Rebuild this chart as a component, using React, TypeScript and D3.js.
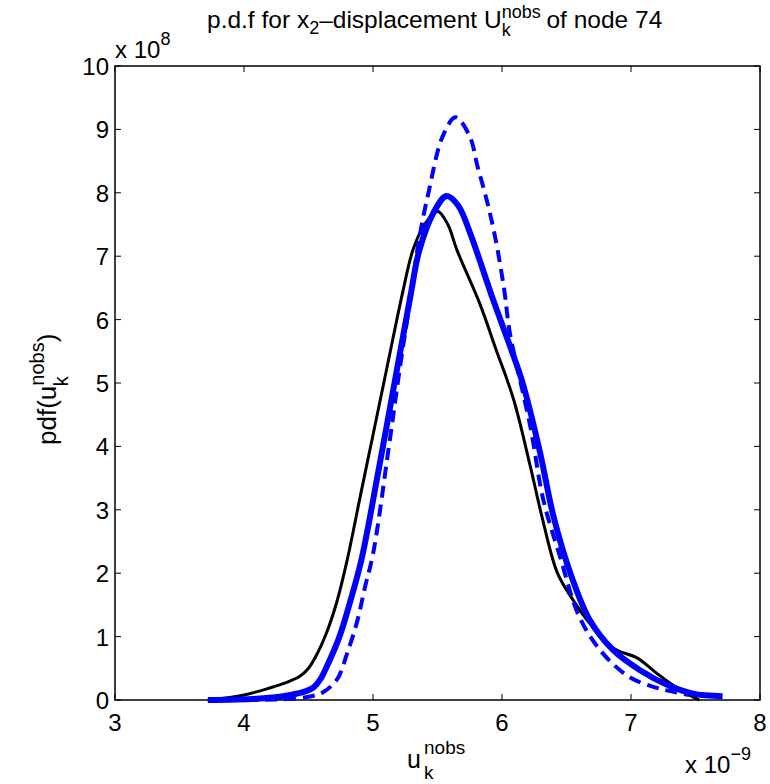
import React from 'react';
import * as d3 from 'd3';

// data in units of 1e-9 (x) and 1e8 (y)
const blackX = [3.72, 4.0, 4.2, 4.32, 4.43, 4.5, 4.57, 4.64, 4.72, 4.8, 4.9, 5.0, 5.11, 5.23, 5.31, 5.4, 5.5, 5.58, 5.65, 5.83, 5.95, 6.09, 6.22, 6.31, 6.43, 6.55, 6.68, 6.86, 7.05, 7.2, 7.38, 7.53];
const blackY = [0.0, 0.08, 0.19, 0.27, 0.37, 0.5, 0.74, 1.06, 1.55, 2.21, 3.2, 4.18, 5.26, 6.43, 7.1, 7.5, 7.71, 7.5, 7.1, 6.24, 5.55, 4.74, 3.68, 2.89, 2.0, 1.58, 1.21, 0.82, 0.66, 0.42, 0.16, 0.0];

const thickX = [3.72, 4.1, 4.36, 4.48, 4.54, 4.59, 4.64, 4.74, 4.82, 4.91, 5.05, 5.19, 5.29, 5.36, 5.47, 5.57, 5.66, 5.75, 5.93, 6.05, 6.16, 6.29, 6.4, 6.53, 6.68, 6.86, 7.07, 7.28, 7.48, 7.71];
const thickY = [0.0, 0.02, 0.08, 0.14, 0.2, 0.32, 0.52, 1.0, 1.53, 2.21, 3.7, 5.26, 6.37, 7.1, 7.69, 7.95, 7.8, 7.38, 6.32, 5.65, 5.0, 3.95, 2.89, 2.0, 1.26, 0.79, 0.47, 0.24, 0.1, 0.06];

const dashX = [3.72, 4.3, 4.5, 4.61, 4.72, 4.8, 4.88, 4.94, 5.0, 5.12, 5.21, 5.28, 5.36, 5.43, 5.54, 5.64, 5.75, 5.81, 5.88, 5.95, 6.02, 6.06, 6.22, 6.32, 6.45, 6.6, 6.78, 6.99, 7.2, 7.33, 7.45];
const dashY = [0.0, 0.01, 0.05, 0.12, 0.32, 0.74, 1.26, 1.8, 2.3, 3.95, 5.26, 6.2, 7.3, 8.0, 8.89, 9.19, 8.89, 8.42, 7.9, 7.27, 6.43, 5.8, 4.31, 3.16, 2.26, 1.31, 0.74, 0.36, 0.19, 0.13, 0.08];

const xTicks = [3, 4, 5, 6, 7, 8];
const yTicks = [0, 1, 2, 3, 4, 5, 6, 7, 8, 9, 10];

const left = 115, right = 760, top = 66, bottom = 700;

const App = () => {
  const x = d3.scaleLinear().domain([3, 8]).range([left, right]);
  const y = d3.scaleLinear().domain([0, 10]).range([bottom, top]);
  const line = d3.line<[number, number]>()
    .x(d => x(d[0]))
    .y(d => Math.min(bottom, y(d[1])))
    .curve(d3.curveCatmullRom.alpha(0.5));
  const zip = (xs: number[], ys: number[]) => xs.map((v, i) => [v, ys[i]] as [number, number]);
  const font = '"Liberation Sans", Arial, sans-serif';

  return (
    <svg width={770} height={784} style={{ position: 'absolute', left: 0, top: 0, fontFamily: font }}>
      <rect width={770} height={784} fill="#fff" />
      <rect x={left} y={top} width={right - left} height={bottom - top} fill="#fff" stroke="#000" strokeWidth={1.5} />
      {xTicks.map(t => (
        <g key={'x' + t}>
          <line x1={x(t)} x2={x(t)} y1={bottom} y2={bottom - 6} stroke="#000" />
          <line x1={x(t)} x2={x(t)} y1={top} y2={top + 6} stroke="#000" />
          <text x={x(t)} y={bottom + 31} fontSize={24} textAnchor="middle">{t}</text>
        </g>
      ))}
      {yTicks.map(t => (
        <g key={'y' + t}>
          <line x1={left} x2={left + 6} y1={y(t)} y2={y(t)} stroke="#000" />
          <line x1={right} x2={right - 6} y1={y(t)} y2={y(t)} stroke="#000" />
          <text x={left - 6} y={y(t) + 9} fontSize={24} textAnchor="end">{t}</text>
        </g>
      ))}
      <path d={line(zip(blackX, blackY)) || ''} fill="none" stroke="#000" strokeWidth={3} />
      <path d={line(zip(dashX, dashY)) || ''} fill="none" stroke="#0000ff" strokeWidth={4} strokeDasharray="12,7" />
      <path d={line(zip(thickX, thickY)) || ''} fill="none" stroke="#0000ff" strokeWidth={6} />

      <text x={115} y={58} fontSize={24}>x 10<tspan fontSize={18} dy={-13}>8</tspan></text>
      <text x={685} y={773} fontSize={24}>x 10<tspan fontSize={18} dy={-13}>−9</tspan></text>

      <text x={207} y={28} fontSize={24.5}>
        p.d.f for x<tspan fontSize={18} dy={6}>2</tspan>
        <tspan dy={-6}>–displacement U</tspan>
        <tspan fontSize={18} dy={-10}>nobs</tspan>
        <tspan fontSize={18} dx={-39} dy={18}>k</tspan>
        <tspan dx={29} dy={-8}> of node 74</tspan>
      </text>

      <text x={407} y={768} fontSize={25}>u</text>
      <text x={424} y={754} fontSize={19}>nobs</text>
      <text x={424} y={779} fontSize={19}>k</text>

      <g transform="translate(56,445) rotate(-90)">
        <text x={0} y={0} fontSize={26}>
          pdf(u
          <tspan fontSize={20} dy={-12}>nobs</tspan>
          <tspan fontSize={20} dx={-44} dy={24}>k</tspan>
          <tspan fontSize={26} dx={34} dy={-12}>)</tspan>
        </text>
      </g>
    </svg>
  );
};

export default App;
